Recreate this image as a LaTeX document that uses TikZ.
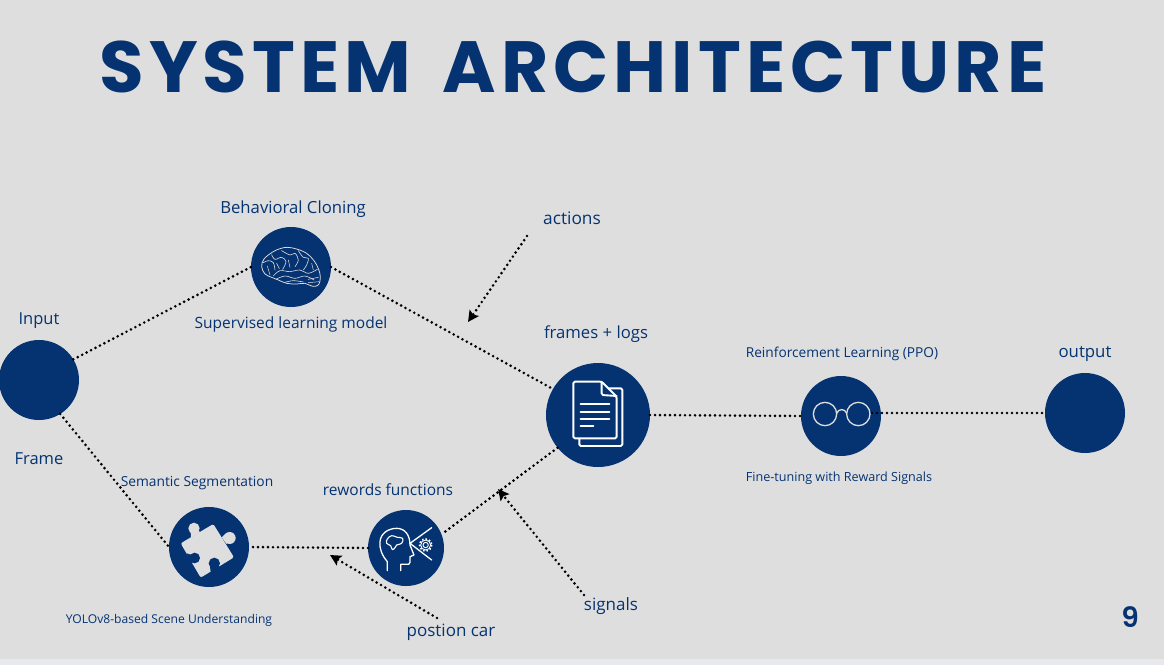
\documentclass[tikz,border=0pt]{standalone}
\usepackage{fontspec}
\setmainfont{Open Sans}
\newfontfamily\titlefont[LetterSpace=7]{Poppins Bold}
\newfontfamily\numfont{Poppins SemiBold}
\usetikzlibrary{arrows.meta}
\definecolor{navy}{HTML}{053372}
\definecolor{pagebg}{HTML}{DEDEDE}
\definecolor{stripbg}{HTML}{E8E9EE}
\tikzset{
  disc/.style={circle,fill=navy,minimum size=#1,inner sep=0pt,outer sep=0pt},
  lbl/.style={text=navy,font=\fontsize{#1}{#1}\selectfont,inner sep=0pt},
  link/.style={line width=2.9pt,line cap=round,dash pattern=on 0pt off 5pt,black},
  pointer/.style={link,-{Stealth[length=11pt,width=11pt,inset=2pt]}},
  icon/.style={draw=white,line width=#1,line join=round,line cap=round},
  iconsoft/.style={draw=pagebg,line width=#1,line join=round,line cap=round},
  zoomed/.style={shift={#1},x=0.3333pt,y=-0.3333pt}
}
\begin{document}
\begin{tikzpicture}[x=1pt,y=-1pt]
\useasboundingbox (0,0) rectangle (1164,665);
\fill[pagebg] (0,0) rectangle (1164,665);
\fill[stripbg] (0,659) rectangle (1164,665);

\node[text=navy,font=\titlefont\fontsize{72.5}{72.5}\selectfont,inner sep=0pt] (title) at (573,67) {SYSTEM\kern11pt\ ARCHITECTURE};

\node[disc=80pt] (input) at (39,380) {};
\node[disc=80pt] (bc) at (291,267) {};
\node[disc=104pt] (doc) at (598,415) {};
\node[disc=80pt] (rl) at (841,416) {};
\node[disc=80pt] (out) at (1085,413) {};
\node[disc=80pt] (seg) at (209,547) {};
\node[disc=76pt] (head) at (406,548) {};

\coordinate (rlout) at (872,413);
\coordinate (aStart) at (527,236);
\coordinate (aEnd) at (468,322);
\coordinate (sStart) at (584,595);
\coordinate (sEnd) at (498,489);
\coordinate (pStart) at (437,618);
\coordinate (pEnd) at (330,555);

\draw[link] (input.31) -- (bc.180);
\draw[link] (bc.0) -- (doc.150);
\draw[link] (doc.219) -- (head.21);
\draw[link] (head.180) -- (seg.0);
\draw[link] (input.-58) -- (seg.180);
\draw[link] (doc.0) -- (rl.180);
\draw[link] (rlout) -- (out.180);
\draw[pointer] (aStart) -- (aEnd);
\draw[pointer] (sStart) -- (sEnd);
\draw[pointer] (pStart) -- (pEnd);

% brain
\begin{scope}[zoomed={(240,220)}]
\draw[iconsoft=0.75pt] plot[smooth cycle,tension=0.6] coordinates {(65,140) (72,117) (98,96) (120,86) (142,82) (170,87) (200,100) (222,122) (236,148) (241,172) (236,194) (218,199) (195,190) (170,192) (140,190) (115,180) (95,172) (75,162)};
\draw[iconsoft=0.6pt] plot[smooth,tension=0.6] coordinates {(70,128) (85,122) (100,128) (105,150)};
\draw[iconsoft=0.6pt] plot[smooth,tension=0.6] coordinates {(95,104) (105,118) (125,112) (138,125) (128,148)};
\draw[iconsoft=0.6pt] plot[smooth,tension=0.6] coordinates {(125,92) (150,105) (165,100) (175,120) (165,140)};
\draw[iconsoft=0.6pt] plot[smooth,tension=0.6] coordinates {(175,92) (190,112) (205,115) (200,135) (190,150)};
\draw[iconsoft=0.6pt] plot[smooth,tension=0.6] coordinates {(100,168) (120,152) (150,155) (180,150) (205,160) (232,148)};
\draw[iconsoft=0.6pt] plot[smooth,tension=0.6] coordinates {(108,178) (135,168) (165,175) (195,168) (222,180)};
\draw[iconsoft=0.6pt] plot[smooth,tension=0.6] coordinates {(135,187) (160,182) (190,186)};
\draw[iconsoft=0.5pt] (205,178) -- (235,172) (205,188) -- (238,185) (82,138) -- (90,165) (145,120) -- (150,142) (215,130) -- (220,150) (110,130) -- (118,146);
\end{scope}

% document
\begin{scope}[zoomed={(540,360)}]
\draw[icon=1.9pt,rounded corners=1.5pt] (185,65) -- (100,65) -- (100,235) -- (230,235) -- (230,110) -- cycle;
\draw[icon=1.9pt,rounded corners=1.5pt] (185,65) -- (185,105) -- (230,108);
\draw[icon=1.9pt,rounded corners=1.5pt] (205,85) -- (247,85) -- (247,258) -- (118,258) -- (118,236);
\draw[icon=1.9pt] (122,133) -- (208,133) (122,155) -- (208,155) (122,177) -- (208,177) (122,199) -- (160,199);
\end{scope}

% head with gear
\begin{scope}[zoomed={(360,505)}]
\draw[icon=1.3pt] (82,197) -- (82,170) .. controls (65,150) and (58,130) .. (60,110) .. controls (62,85) and (85,70) .. (110,70) .. controls (135,70) and (150,90) .. (150,120) -- (162,150) -- (150,155) -- (150,172) .. controls (150,178) and (145,178) .. (140,178) -- (122,178) -- (122,197);
\draw[icon=1.1pt] plot[smooth cycle,tension=0.7] coordinates {(82,102) (95,92) (112,97) (128,100) (125,115) (110,120) (105,128) (97,134) (92,122) (80,115)};
\draw[icon=1.3pt] (215,68) -- (150,115) -- (215,165);
\draw[white,line width=1.6pt,dash pattern=on 1.5pt off 2pt] (197,120) circle[radius=18];
\draw[icon=0.9pt] (197,120) circle[radius=15];
\draw[icon=0.9pt] (197,120) circle[radius=8];
\end{scope}

% puzzle piece
\begin{scope}[zoomed={(160,500)}]
\fill[pagebg,rounded corners=2pt] (62,130) -- (160,72) -- (222,172) -- (122,233) -- cycle;
\fill[pagebg] (102,85) circle[radius=17];
\fill[pagebg] (209,114) circle[radius=18];
\fill[pagebg] (93,112) -- (120,97) -- (115,90) -- (92,95) -- cycle;
\fill[pagebg] (185,112) -- (200,132) -- (210,118) -- (198,100) -- cycle;
\fill[navy] (104,174) circle[radius=16];
\fill[navy] (163,190) circle[radius=17];
\fill[navy] (80,160) -- (96,165) -- (102,184) -- (92,192) -- cycle;
\fill[navy] (150,200) -- (176,198) -- (182,205) -- (153,223) -- cycle;
\end{scope}

% glasses
\begin{scope}[zoomed={(795,370)}]
\draw[iconsoft=1.3pt] (90,132) circle[radius=35];
\draw[iconsoft=1.3pt] (190,132) circle[radius=35];
\draw[iconsoft=1.3pt] (125,130) .. controls (130,115) and (150,115) .. (155,130);
\end{scope}

\node[lbl=16.7] (t1) at (293,209) {Behavioral Cloning};
\node[lbl=15.5] (t2) at (291,324) {Supervised learning model};
\node[lbl=16.5] (t3) at (39,321) {Input};
\node[lbl=16.5] (t4) at (39,459) {Frame};
\node[lbl=17.3] (t5) at (572,218) {actions};
\node[lbl=16.7] (t6) at (596,334) {frames + logs};
\node[lbl=13.7] (t7) at (842,354) {Reinforcement Learning (PPO)};
\node[lbl=16.8] (t8) at (1085,354) {output};
\node[lbl=12.6] (t9) at (839,478) {Fine-tuning with Reward Signals};
\node[lbl=13.8] (t10) at (197,483) {Semantic Segmentation};
\node[lbl=15.5] (t11) at (388,490) {rewords functions};
\node[lbl=12.1] (t12) at (169,620) {YOLOv8-based Scene Understanding};
\node[lbl=17] (t13) at (451,632) {postion car};
\node[lbl=17] (t14) at (611,606) {signals};
\node[text=navy,font=\numfont\fontsize{28}{28}\selectfont,inner sep=0pt] (num) at (1130,617) {9};
\end{tikzpicture}
\end{document}
